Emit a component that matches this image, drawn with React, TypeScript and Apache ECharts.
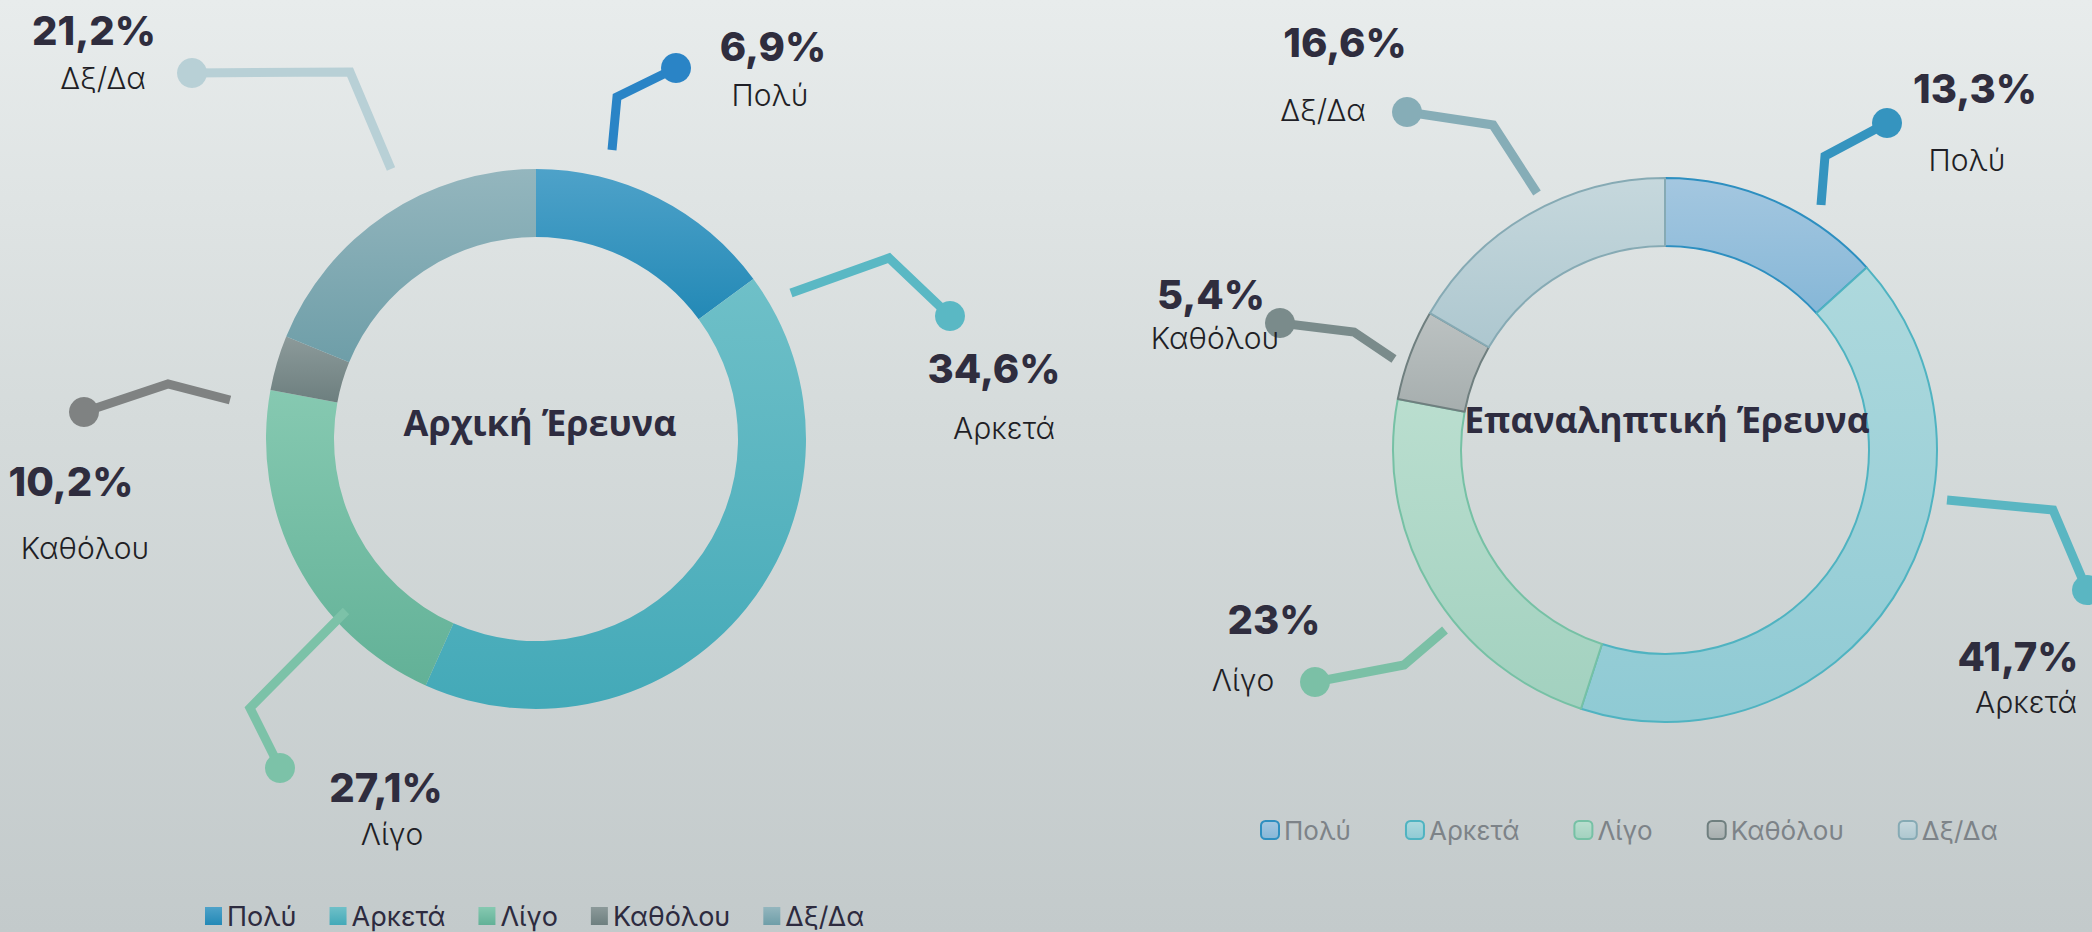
import React, { useEffect, useRef } from "react";
import * as echarts from "echarts";

// ---------- data ----------
const categories = ["Πολύ", "Αρκετά", "Λίγο", "Καθόλου", "Δξ/Δα"];
// arc sizes as drawn in the first ring
const initialSlices = [14.9, 41.8, 21.2, 3.3, 18.8];
// percentages printed on the first ring's callouts
const initialLabels = [6.9, 34.6, 27.1, 10.2, 21.2];
const repeatSlices = [13.3, 41.7, 23, 5.4, 16.6];
const repeatLabels = [13.3, 41.7, 23, 5.4, 16.6];
const titles = ["Αρχική Έρευνα", "Επαναληπτική Έρευνα"];

// ---------- styles ----------
const leftFill = [
  ["#4ea2c9", "#2389b6"],
  ["#6fc0c8", "#43a9b8"],
  ["#86c9b1", "#62b197"],
  ["#8c9a9a", "#6d7f7f"],
  ["#94b6be", "#6e9ea8"],
];
const rightFill = [
  ["#a4c7e0", "#86b7d7"],
  ["#aed9dd", "#8fcad4"],
  ["#badecf", "#a2d1bf"],
  ["#bcc2c2", "#a6aeae"],
  ["#c6d8dd", "#adc7cf"],
];
const rightBorder = ["#2d8fc0", "#4fb3c1", "#76c1a5", "#6f7f7f", "#86aab4"];
const leftLine = ["#2a84c6", "#5ab8c4", "#7cc2a8", "#7f8282", "#b8d0d6"];
const rightLine = ["#3594bf", "#5ab6c2", "#7bc0a6", "#7a8b8b", "#86adb7"];

// callout layout (pixel positions of leader lines and texts)
const leftCallouts = [
  { pts: [[612, 150], [617, 97], [676, 68]], pct: [773, 46], name: [770, 95] },
  { pts: [[791, 293], [889, 258], [950, 316]], pct: [994, 368], name: [1004, 428] },
  { pts: [[346, 611], [250, 708], [280, 768]], pct: [386, 787], name: [392, 834] },
  { pts: [[230, 400], [168, 384], [84, 412]], pct: [71, 481], name: [85, 548] },
  { pts: [[391, 169], [350, 72], [192, 73]], pct: [94, 30], name: [103, 78] },
];
const rightCallouts = [
  { pts: [[1821, 205], [1825, 156], [1887, 123]], pct: [1975, 88], name: [1967, 160] },
  { pts: [[1947, 500], [2053, 510], [2087, 590]], pct: [2018, 656], name: [2026, 702] },
  { pts: [[1445, 630], [1404, 665], [1315, 682]], pct: [1274, 619], name: [1243, 680] },
  { pts: [[1394, 359], [1354, 332], [1280, 323]], pct: [1211, 294], name: [1215, 338] },
  { pts: [[1537, 193], [1493, 125], [1407, 112]], pct: [1345, 42], name: [1323, 110] },
];

const fmt = (v: number) => String(v).replace(".", ",") + "%";
const grad = (c: string[]) => ({
  type: "linear",
  x: 0,
  y: 0,
  x2: 0,
  y2: 1,
  colorStops: [
    { offset: 0, color: c[0] },
    { offset: 1, color: c[1] },
  ],
});

const PCT_FONT = "Inter, 'Noto Sans', sans-serif";
const TITLE_FONT = "'Open Sans', 'Noto Sans', sans-serif";

function callouts(cfg: any[], colors: string[], labels: number[]) {
  const lines: any[] = [];
  const dots: any[] = [];
  const texts: any[] = [];
  cfg.forEach((c, i) => {
    lines.push({
      type: "polyline",
      z: 100,
      shape: { points: c.pts },
      style: { stroke: colors[i], lineWidth: 9, fill: null, lineJoin: "miter", lineCap: "butt" },
    });
    const end = c.pts[c.pts.length - 1];
    dots.push({
      type: "circle",
      z: 101,
      shape: { cx: end[0], cy: end[1], r: 15 },
      style: { fill: colors[i] },
    });
    texts.push({
      type: "text",
      z: 102,
      x: c.pct[0],
      y: c.pct[1],
      style: {
        text: fmt(labels[i]),
        fill: "#2f2d3e",
        fontSize: 40,
        lineHeight: 36,
        fontWeight: 800,
        fontFamily: PCT_FONT,
        align: "center",
        verticalAlign: "middle",
      },
    });
    texts.push({
      type: "text",
      z: 102,
      x: c.name[0],
      y: c.name[1],
      style: {
        text: categories[i],
        fill: "#1f1f26",
        fontSize: 30,
        lineHeight: 30,
        fontWeight: 300,
        fontFamily: PCT_FONT,
        align: "center",
        verticalAlign: "middle",
      },
    });
  });
  return [...lines, ...dots, ...texts];
}

export default function App() {
  const ref = useRef<HTMLDivElement>(null);
  useEffect(() => {
    if (!ref.current) return;
    const chart = echarts.init(ref.current, undefined, { renderer: "svg" });
    const option: any = {
      animation: false,
      backgroundColor: "transparent",
      legend: [
        {
          left: 205,
          top: 901,
          padding: 0,
          icon: "rect",
          itemWidth: 17,
          itemHeight: 18,
          itemGap: 33,
          selectedMode: false,
          data: categories,
          textStyle: { fontSize: 27, color: "#2d2b3f", fontFamily: PCT_FONT, lineHeight: 30 },
        },
        {
          left: 1260,
          top: 815,
          padding: 0,
          icon: "roundRect",
          itemWidth: 18,
          itemHeight: 18,
          itemGap: 54,
          selectedMode: false,
          data: categories.map((n, i) => ({
            name: n,
            itemStyle: { color: grad(rightFill[i]), borderColor: rightBorder[i], borderWidth: 2 },
          })),
          textStyle: { fontSize: 26, color: "#7d8388", fontFamily: PCT_FONT, lineHeight: 30 },
        },
      ],
      series: [
        {
          type: "pie",
          center: [536, 439],
          radius: [202, 270],
          silent: true,
          label: { show: false },
          labelLine: { show: false },
          data: categories.map((n, i) => ({
            name: n,
            value: initialSlices[i],
            itemStyle: { color: grad(leftFill[i]) },
          })),
        },
        {
          type: "pie",
          center: [1665, 450],
          radius: [204, 272],
          silent: true,
          label: { show: false },
          labelLine: { show: false },
          data: categories.map((n, i) => ({
            name: n,
            value: repeatSlices[i],
            itemStyle: { color: grad(rightFill[i]), borderColor: rightBorder[i], borderWidth: 2 },
          })),
        },
      ],
      graphic: [
        ...callouts(leftCallouts, leftLine, initialLabels),
        ...callouts(rightCallouts, rightLine, repeatLabels),
        {
          type: "text",
          z: 102,
          x: 540,
          y: 422,
          style: {
            text: titles[0],
            fill: "#2e2c40",
            fontSize: 36,
            fontWeight: 700,
            fontFamily: TITLE_FONT,
            align: "center",
            verticalAlign: "middle",
          },
        },
        {
          type: "text",
          z: 102,
          x: 1667,
          y: 419,
          style: {
            text: titles[1],
            fill: "#2e2c40",
            fontSize: 35.5,
            fontWeight: 700,
            fontFamily: TITLE_FONT,
            align: "center",
            verticalAlign: "middle",
          },
        },
      ],
    };
    chart.setOption(option);
    return () => chart.dispose();
  }, []);
  return (
    <div
      ref={ref}
      style={{
        position: "fixed",
        left: 0,
        top: 0,
        width: 2092,
        height: 932,
        background: "linear-gradient(180deg, #e8ecec 0%, #d5dbdb 45%, #c3cacb 100%)",
      }}
    />
  );
}
